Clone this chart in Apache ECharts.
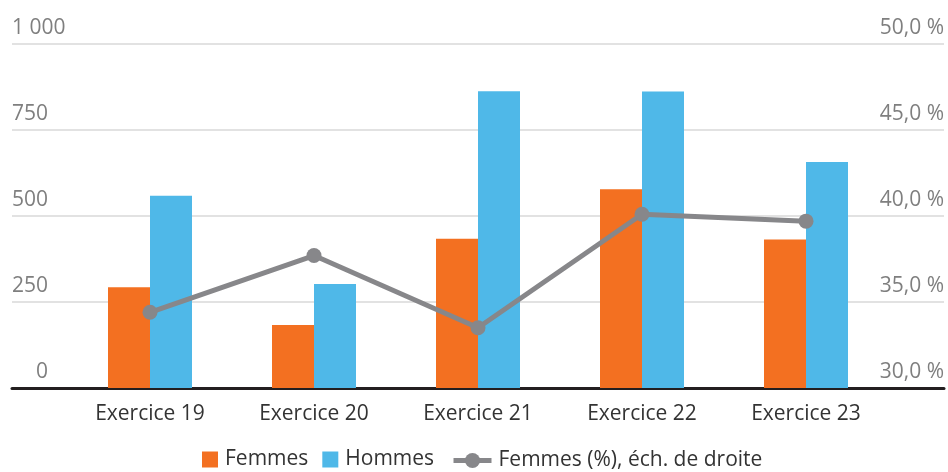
<!DOCTYPE html>
<html>
<head>
<meta charset="utf-8">
<script src="https://cdn.jsdelivr.net/npm/echarts@6/dist/echarts.min.js"></script>
<style>
html,body{margin:0;padding:0;background:#fff;}
#chart{width:948px;height:472px;}
</style>
</head>
<body>
<div id="chart"></div>
<script>
const categories = ['Exercice 19', 'Exercice 20', 'Exercice 21', 'Exercice 22', 'Exercice 23'];
const femmes = [293, 183, 434, 578, 432];
const hommes = [559, 302, 863, 862, 657];
const femmesPct = [34.4, 37.7, 33.5, 40.1, 39.7];
const leftTicks = { min: 0, max: 1000, interval: 250 };
const rightTicks = { min: 30, max: 50, interval: 5 };
const seriesNames = ['Femmes', 'Hommes', 'Femmes (%), éch. de droite'];

const FONT = '"Open Sans", "Noto Sans", sans-serif';
const AXIS_GREY = '#7F7F7F';
const chart = echarts.init(document.getElementById('chart'), null, { renderer: 'canvas' });

function fmtLeft(v) {
  const s = String(v).replace(/\B(?=(\d{3})+(?!\d))/g, ' ');
  return v === 0 ? '{z|' + s + '}' : s;
}
function fmtRight(v) {
  return v.toFixed(1).replace('.', ',') + ' %';
}

chart.setOption({
  animation: false,
  textStyle: { fontFamily: FONT },
  color: ['#F37021', '#4FB8E8', '#87878A'],
  grid: [
    { left: 12, right: 4, top: 44, bottom: 84 },
    { left: 68, right: 60, top: 44, bottom: 84 }
  ],
  legend: [
    {
      left: 197,
      bottom: -3,
      itemWidth: 16,
      itemHeight: 16,
      itemGap: 14,
      textStyle: { fontFamily: FONT, fontSize: 21, color: '#333', padding: [0, 0, 0, 2] },
      data: [
        { name: seriesNames[0], icon: 'rect' },
        { name: seriesNames[1], icon: 'rect' }
      ]
    },
    {
      left: 446,
      bottom: -4,
      itemWidth: 38,
      itemHeight: 19,
      lineStyle: { width: 5 },
      textStyle: { fontFamily: FONT, fontSize: 21, color: '#333', padding: [0, 0, 0, 2] },
      data: [{ name: seriesNames[2] }]
    }
  ],
  xAxis: [
    {
      gridIndex: 0, type: 'value', min: 0, max: 1,
      axisLine: { show: true, onZero: false, lineStyle: { color: '#231F20', width: 3 } },
      axisTick: { show: false }, axisLabel: { show: false }, splitLine: { show: false }
    },
    {
      gridIndex: 1, type: 'category', data: categories,
      axisLine: { show: false }, axisTick: { show: false },
      axisLabel: { color: '#333', fontSize: 21, fontFamily: FONT, margin: 16 }
    }
  ],
  yAxis: [
    {
      gridIndex: 0, type: 'value', position: 'left',
      min: leftTicks.min, max: leftTicks.max, interval: leftTicks.interval,
      axisLine: { show: false }, axisTick: { show: false },
      axisLabel: {
        inside: true, margin: 0, verticalAlign: 'bottom', padding: [0, 0, 5, 0],
        color: AXIS_GREY, fontSize: 21, fontFamily: FONT, formatter: fmtLeft,
        rich: { z: { color: AXIS_GREY, fontSize: 21, fontFamily: FONT, padding: [0, 0, 0, 24] } }
      },
      splitLine: { show: true, lineStyle: { color: '#D9D9D9', width: 1.5 } }
    },
    {
      gridIndex: 0, type: 'value', position: 'right',
      min: rightTicks.min, max: rightTicks.max, interval: rightTicks.interval,
      axisLine: { show: false }, axisTick: { show: false },
      axisLabel: {
        inside: true, margin: 0, verticalAlign: 'bottom', padding: [0, 0, 5, 0],
        color: AXIS_GREY, fontSize: 21, fontFamily: FONT, formatter: fmtRight
      },
      splitLine: { show: false }
    },
    {
      gridIndex: 1, type: 'value', min: leftTicks.min, max: leftTicks.max,
      show: false
    },
    {
      gridIndex: 1, type: 'value', min: rightTicks.min, max: rightTicks.max,
      show: false
    }
  ],
  series: [
    {
      name: seriesNames[0], type: 'bar', xAxisIndex: 1, yAxisIndex: 2,
      data: femmes, barWidth: 42, barGap: '0%',
      itemStyle: { color: '#F37021' }
    },
    {
      name: seriesNames[1], type: 'bar', xAxisIndex: 1, yAxisIndex: 2,
      data: hommes, barWidth: 42, barGap: '0%',
      itemStyle: { color: '#4FB8E8' }
    },
    {
      name: seriesNames[2], type: 'line', xAxisIndex: 1, yAxisIndex: 3,
      data: femmesPct, symbol: 'circle', symbolSize: 15,
      lineStyle: { color: '#87878A', width: 5 },
      itemStyle: { color: '#87878A' }, z: 5
    }
  ]
});
</script>
</body>
</html>
